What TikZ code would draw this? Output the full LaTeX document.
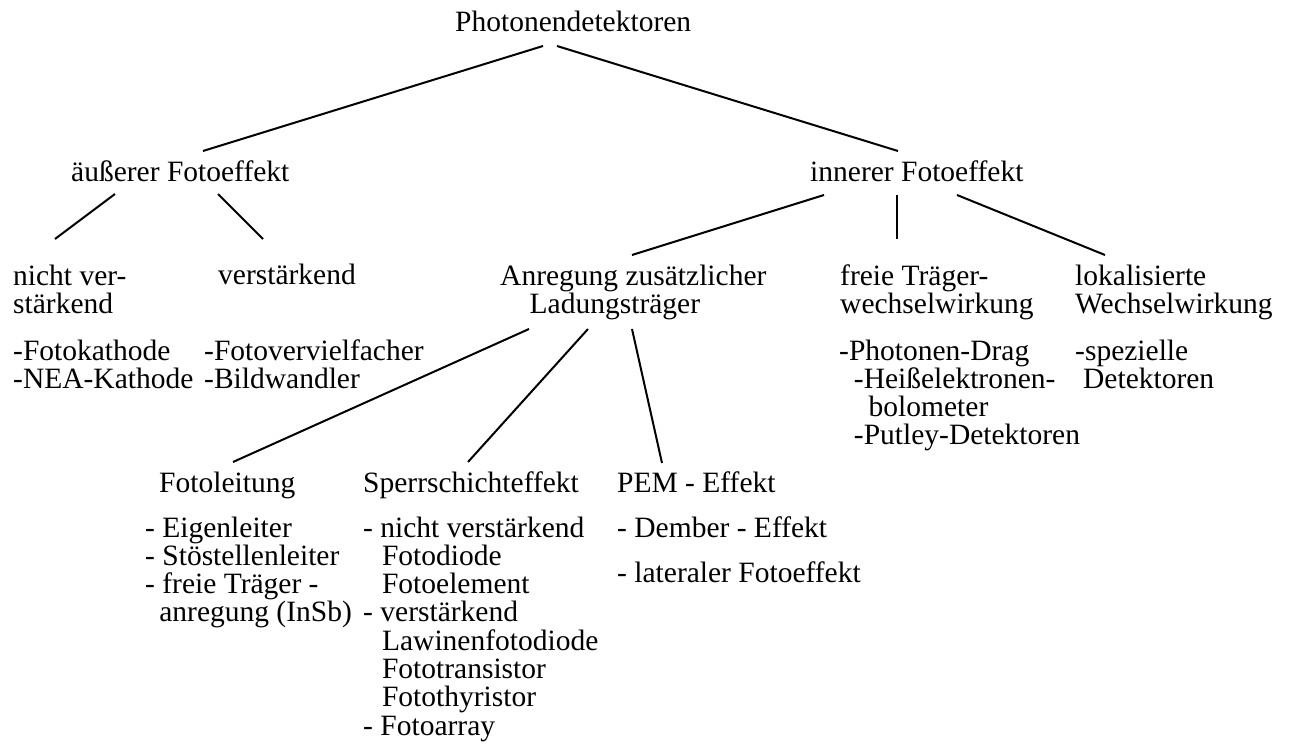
\documentclass[tikz,border=0pt]{standalone}
\usepackage{fontspec}
\setmainfont{Liberation Serif}
\usepackage{tikz}

% multi-line nodes: base = baseline of the last line
\tikzset{
  lbl/.style={anchor=base west, inner sep=0pt, align=left,
    font=\fontsize{29.5}{28.3}\selectfont},
  branch/.style={line width=2pt}
}

\begin{document}
\begin{tikzpicture}[x=1pt,y=-1pt]
            \useasboundingbox (0,0) rectangle (1291,751);
            % level 0 and 1
            \node[lbl] (photo) at (455,32) {Photonendetektoren};
            \node[lbl] (aussen) at (71,182) {äußerer Fotoeffekt};
            \node[lbl] (innen) at (810,182) {innerer Fotoeffekt};
            % level 2
            \node[lbl] (nv) at (13,313.3) {nicht ver-\\stärkend};
            \node[lbl] (vs) at (218,285) {verstärkend};
            \node[lbl] (anr) at (500,313.3) {Anregung zusätzlicher\\\hspace*{1em}Ladungsträger};
            \node[lbl] (freie) at (840,313.3) {freie Träger-\\wechselwirkung};
            \node[lbl] (lok) at (1075,313.3) {lokalisierte\\Wechselwirkung};
            % lists under level 2
            \node[lbl] (nvlist) at (13,388.3) {-Fotokathode\\-NEA-Kathode};
            \node[lbl] (vslist) at (204,388.3) {-Fotovervielfacher\\-Bildwandler};
            \node[lbl] (freilist) at (839,444.9) {-Photonen-Drag\\\hspace*{0.5em}-Heißelektronen-\\\hspace*{1em}bolometer\\\hspace*{0.5em}-Putley-Detektoren};
            \node[lbl] (loklist) at (1075,388.3) {-spezielle\\\hspace*{0.27em}Detektoren};
            % level 3
            \node[lbl] (fotol) at (159,492) {Fotoleitung};
            \node[lbl] (sperr) at (363,492) {Sperrschichteffekt};
            \node[lbl] (pem) at (617,492) {PEM - Effekt};
            \node[lbl] (fotollist) at (145,621.9) {- Eigenleiter\\- Stöstellenleiter\\- freie Träger -\\\hspace*{0.48em}anregung (InSb)};
            \node[lbl] (sperrlist) at (363,735.1) {- nicht verstärkend\\\hspace*{0.64em}Fotodiode\\\hspace*{0.64em}Fotoelement\\- verstärkend\\\hspace*{0.64em}Lawinenfotodiode\\\hspace*{0.64em}Fototransistor\\\hspace*{0.64em}Fotothyristor\\- Fotoarray};
            \node[lbl] (pemlist) at (617,582) {- Dember - Effekt\\[16.7pt]- lateraler Fotoeffekt};

            \draw[branch] ([shift={(88,14)}]photo.base west) -- ([shift={(132,-31)}]aussen.base west);
            \draw[branch] ([shift={(102,14)}]photo.base west) -- ([shift={(88,-31)}]innen.base west);
            \draw[branch] ([shift={(44,12)}]aussen.base west) -- ([shift={(42,-74.3)}]nv.base west);
            \draw[branch] ([shift={(147,12)}]aussen.base west) -- ([shift={(45,-46)}]vs.base west);
            \draw[branch] ([shift={(14,13)}]innen.base west) -- ([shift={(132,-58.3)}]anr.base west);
            \draw[branch] ([shift={(87,13)}]innen.base west) -- ([shift={(57,-74.3)}]freie.base west);
            \draw[branch] ([shift={(147,13)}]innen.base west) -- ([shift={(30,-58.3)}]lok.base west);
            \draw[branch] ([shift={(29,15.7)}]anr.base west) -- ([shift={(74,-30)}]fotol.base west);
            \draw[branch] ([shift={(88,15.7)}]anr.base west) -- ([shift={(105,-30)}]sperr.base west);
            \draw[branch] ([shift={(132,15.7)}]anr.base west) -- ([shift={(45,-29)}]pem.base west);
\end{tikzpicture}
\end{document}
